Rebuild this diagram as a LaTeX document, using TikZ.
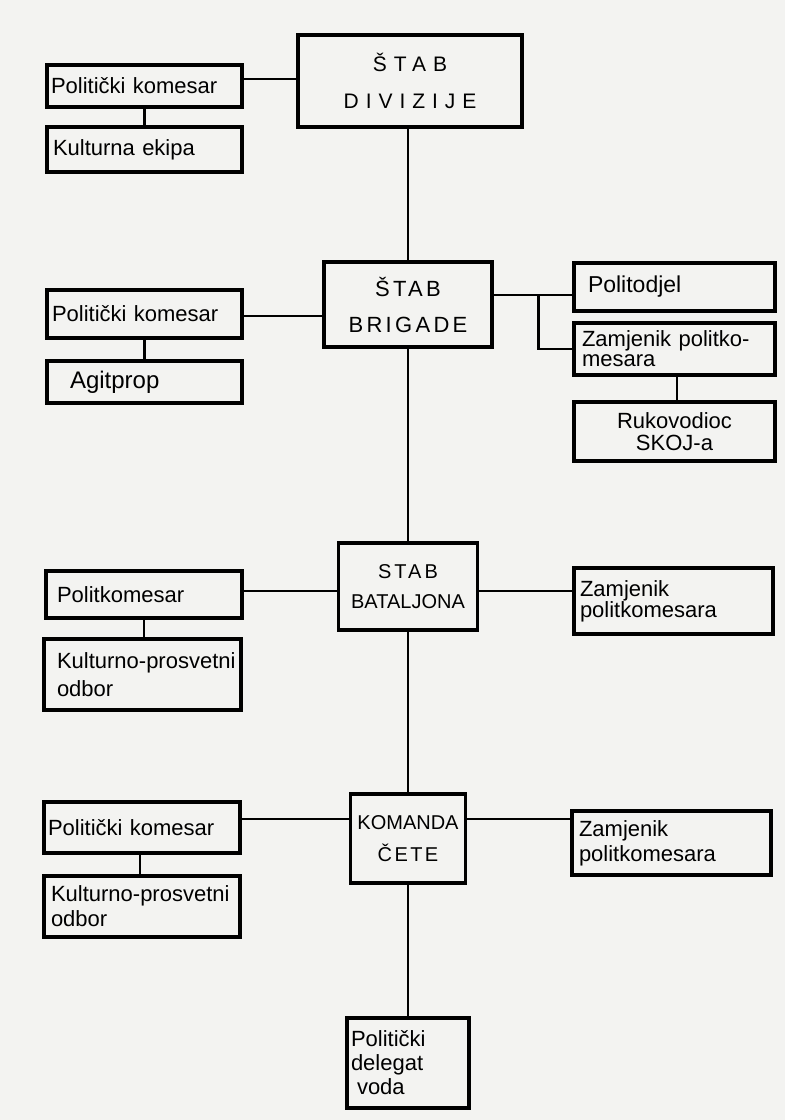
\documentclass[tikz,border=0pt]{standalone}
\usepackage{fontspec}
\setmainfont{Liberation Sans}
\definecolor{paper}{RGB}{243,243,241}
\newcommand\myfs[2]{\fontsize{#1}{#2}\selectfont}
\newcommand\spaced[1]{\addfontfeatures{LetterSpace=#1}}
\begin{document}
\begin{tikzpicture}[x=1pt,y=-1pt,
  box/.style={draw=black, line width=3.4pt, inner ysep=0pt},
  lft/.style={box, align=left},
  ctr/.style={box, align=center, inner xsep=0pt},
  conn/.style={line width=2.8pt, draw=black}]
\fill[paper] (0,0) rectangle (785,1120);
\useasboundingbox (0,0) rectangle (785,1120);

% --- Division level
\node[ctr, minimum width=224pt, minimum height=92pt, text width=224pt,
      font=\myfs{21}{37}\spaced{33}] (divStab) at (410,81) {ŠTAB\\DIVIZIJE};
\node[lft, minimum width=195pt, minimum height=42pt, text width=187pt, inner xsep=4pt,
      font=\myfs{22}{24}] (divPK) at (144.5,86) {Politički komesar};
\node[lft, minimum width=195pt, minimum height=45pt, text width=183pt, inner xsep=6pt,
      font=\myfs{22}{24}] (divKE) at (144.5,149.5) {Kulturna ekipa};

% --- Brigade level
\node[ctr, minimum width=168pt, minimum height=85pt, text width=168pt,
      font=\myfs{22}{36}\spaced{15}] (brigStab) at (408,304.5) {ŠTAB\\BRIGADE};
\node[lft, minimum width=195pt, minimum height=48pt, text width=185pt, inner xsep=5pt,
      font=\myfs{22}{24}] (brigPK) at (144.5,314) {Politički komesar};
\node[lft, minimum width=195pt, minimum height=42pt, text width=149pt, inner xsep=23pt,
      font=\myfs{24}{26}] (brigAP) at (144.5,382) {Agitprop};
\node[lft, minimum width=201pt, minimum height=48pt, text width=173pt, inner xsep=14pt,
      font=\myfs{23}{24}] (politodjel) at (674.5,287) {Politodjel};
\node[lft, minimum width=201pt, minimum height=52pt, text width=185pt, inner xsep=8pt,
      font=\myfs{22}{20}] (zamBrig) at (674.5,349) {Zamjenik politko-\\mesara};
\node[ctr, minimum width=201pt, minimum height=59pt, text width=201pt,
      font=\myfs{22}{22}] (rukov) at (674.5,431.5) {Rukovodioc\\SKOJ-a};

% --- Battalion level
\node[ctr, minimum width=139pt, minimum height=87pt, text width=139pt,
      font=\myfs{20}{30}] (batStab) at (408,586.5) {{\spaced{15}STAB}\\BATALJONA};
\node[lft, minimum width=196pt, minimum height=47pt, text width=174pt, inner xsep=11pt,
      font=\myfs{22}{24}] (batPK) at (144,594.5) {Politkomesar};
\node[lft, minimum width=197pt, minimum height=71pt, text width=171pt, inner xsep=13pt,
      font=\myfs{22}{28}] (batKP) at (142.5,674.5) {\mbox{Kulturno-prosvetni}\\odbor};
\node[lft, minimum width=199pt, minimum height=66pt, text width=187pt, inner xsep=6pt,
      font=\myfs{22}{21}] (batZam) at (673.5,601) {Zamjenik\\politkomesara};

% --- Company level
\node[ctr, minimum width=115pt, minimum height=89pt, text width=115pt,
      font=\myfs{20}{32}] (ceteStab) at (408,838.5) {KOMANDA\\{\spaced{12}ČETE}};
\node[lft, minimum width=196pt, minimum height=51pt, text width=188pt, inner xsep=4pt,
      font=\myfs{22}{24}] (cetePK) at (142,827.5) {Politički komesar};
\node[lft, minimum width=196pt, minimum height=61pt, text width=182pt, inner xsep=7pt,
      font=\myfs{22}{25}] (ceteKP) at (142,906.5) {\mbox{Kulturno-prosvetni}\\odbor};
\node[lft, minimum width=199pt, minimum height=64pt, text width=185pt, inner xsep=7pt,
      font=\myfs{22}{25}] (ceteZam) at (671.5,843) {Zamjenik\\politkomesara};
\node[lft, minimum width=122pt, minimum height=90pt, text width=114pt, inner xsep=4pt,
      font=\myfs{22}{24}] (delegat) at (408,1063) {Politički\\delegat\\\hspace*{6pt}voda};

% --- Connectors
% main spine
\draw[conn] (brigStab.north |- divStab.south) -- (brigStab.north);
\draw[conn] (brigStab.south) -- (batStab.north);
\draw[conn] (batStab.south) -- (ceteStab.north);
\draw[conn] (ceteStab.south) -- (delegat.north);

% division
\coordinate (dA) at ([yshift=7pt]divPK.east);
\draw[conn] (dA) -- (dA -| divStab.west);
\draw[conn] (divPK.south) -- (divKE.north);

% brigade
\coordinate (bA) at ([yshift=-2pt]brigPK.east);
\draw[conn] (bA) -- (bA -| brigStab.west);
\draw[conn] (brigPK.south) -- (brigAP.north);
\coordinate (bR) at ([yshift=9.5pt]brigStab.east);
\draw[conn] (bR) -- (bR -| politodjel.west);
\coordinate (bK) at ([xshift=45pt]bR);
\draw[conn] (bK) |- (zamBrig.west);
\draw[conn] ([xshift=2.5pt]zamBrig.south) -- ([xshift=2.5pt]rukov.north);

% battalion
\coordinate (tA) at ([yshift=3.5pt]batPK.east);
\draw[conn] (tA) -- (tA -| batStab.west);
\draw[conn] (batPK.south) -- (batKP.north -| batPK.south);
\coordinate (tR) at ([yshift=-4.5pt]batStab.east);
\draw[conn] (tR) -- (tR -| batZam.west);

% company
\coordinate (cA) at ([yshift=8.5pt]cetePK.east);
\draw[conn] (cA) -- (cA -| ceteStab.west);
\draw[conn] ([xshift=-2pt]cetePK.south) -- ([xshift=-2pt]ceteKP.north);
\coordinate (cR) at ([yshift=19.5pt]ceteStab.east);
\draw[conn] (cR) -- (cR -| ceteZam.west);
\end{tikzpicture}
\end{document}
